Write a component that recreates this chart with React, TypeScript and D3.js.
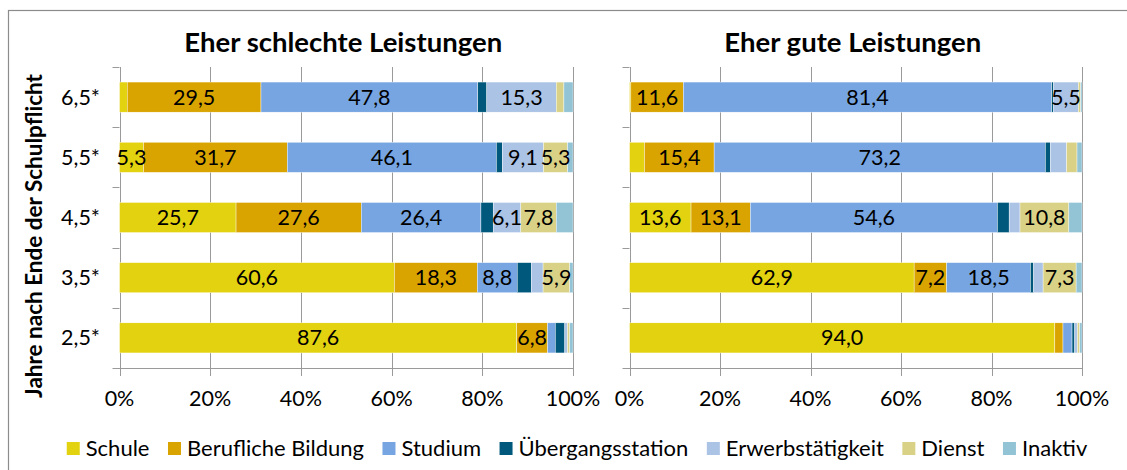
import React, { useEffect, useRef } from 'react';
import * as d3 from 'd3';

const categories = ['6,5*', '5,5*', '4,5*', '3,5*', '2,5*'];
const seriesNames = ['Schule', 'Berufliche Bildung', 'Studium', 'Übergangsstation', 'Erwerbstätigkeit', 'Dienst', 'Inaktiv'];
const seriesColors = ['#E2D20F', '#DAA400', '#77A5E1', '#00597C', '#ABC3E5', '#D9D286', '#92C4D6'];
const xTicks = [0, 20, 40, 60, 80, 100];

// Eher schlechte Leistungen
const schuleLow = [1.7, 5.3, 25.7, 60.6, 87.6];
const berufLow = [29.5, 31.7, 27.6, 18.3, 6.8];
const studiumLow = [47.8, 46.1, 26.4, 8.8, 1.7];
const uebergangLow = [2.0, 1.3, 2.7, 3.1, 2.1];
const erwerbLow = [15.3, 9.1, 6.1, 2.6, 0.6];
const dienstLow = [1.7, 5.3, 7.8, 5.9, 0.5];
const inaktivLow = [2.0, 1.2, 3.7, 0.7, 0.7];

// Eher gute Leistungen
const schuleHigh = [0.3, 3.3, 13.6, 62.9, 94.0];
const berufHigh = [11.6, 15.4, 13.1, 7.2, 1.8];
const studiumHigh = [81.4, 73.2, 54.6, 18.5, 2.0];
const uebergangHigh = [0.4, 1.1, 2.6, 0.7, 0.6];
const erwerbHigh = [5.5, 3.6, 2.4, 2.1, 0.6];
const dienstHigh = [0.5, 2.3, 10.8, 7.3, 0.5];
const inaktivHigh = [0.3, 1.1, 2.9, 1.3, 0.5];

const panels = [
    { title: 'Eher schlechte Leistungen', series: [schuleLow, berufLow, studiumLow, uebergangLow, erwerbLow, dienstLow, inaktivLow], x0: 119.5, x1: 573, showLabels: true },
    { title: 'Eher gute Leistungen', series: [schuleHigh, berufHigh, studiumHigh, uebergangHigh, erwerbHigh, dienstHigh, inaktivHigh], x0: 629.5, x1: 1082, showLabels: false },
];

const FONT = 'Lato, "Open Sans", sans-serif';
const fmt = (v: number) => d3.format('.1f')(v).replace('.', ',');

export default function App() {
    const ref = useRef<SVGSVGElement>(null);

    useEffect(() => {
        const svg = d3.select(ref.current);
        svg.selectAll('*').remove();

        const top = 67;
        const bottom = 368;
        const grid = '#9A9A9A';
        const fs = 21.5;

        // outer frame
        svg.append('rect')
            .attr('x', 8.5).attr('y', 10.5)
            .attr('width', 1140).attr('height', 480)
            .attr('fill', 'none').attr('stroke', '#8C8C8C').attr('stroke-width', 1.2);

        const y = d3.scaleBand<string>()
            .domain(categories)
            .range([top, bottom])
            .paddingInner(0.5)
            .paddingOuter(0.25);

        panels.forEach((p) => {
            const x = d3.scaleLinear().domain([0, 100]).range([p.x0, p.x1]);
            const g = svg.append('g');

            // grid
            g.selectAll('line.grid')
                .data(xTicks.slice(1))
                .join('line')
                .attr('x1', (d) => Math.round(x(d)) + 0.5).attr('x2', (d) => Math.round(x(d)) + 0.5)
                .attr('y1', top).attr('y2', bottom + 8)
                .attr('stroke', grid);

            // axes
            g.append('line')
                .attr('x1', Math.round(p.x0) + 0.5).attr('x2', Math.round(p.x0) + 0.5)
                .attr('y1', top).attr('y2', bottom + 8)
                .attr('stroke', grid);
            g.append('line')
                .attr('x1', p.x0 - 7).attr('x2', p.x1)
                .attr('y1', bottom + 0.5).attr('y2', bottom + 0.5)
                .attr('stroke', grid);
            const step = y.step();
            g.selectAll('line.ytick')
                .data(d3.range(categories.length))
                .join('line')
                .attr('x1', p.x0 - 7).attr('x2', p.x0)
                .attr('y1', (i) => Math.round(top + i * step) + 0.5)
                .attr('y2', (i) => Math.round(top + i * step) + 0.5)
                .attr('stroke', grid);

            // x tick labels
            g.selectAll('text.xt')
                .data(xTicks)
                .join('text')
                .attr('x', (d) => x(d))
                .attr('y', 406)
                .attr('text-anchor', 'middle')
                .attr('font-family', FONT)
                .attr('font-size', fs)
                .attr('fill', '#000')
                .text((d) => d + '%');

            // title
            g.append('text')
                .attr('x', (p.x0 + p.x1) / 2 - 3)
                .attr('y', 52)
                .attr('text-anchor', 'middle')
                .attr('font-family', FONT)
                .attr('font-weight', 'bold')
                .attr('font-size', 27.5)
                .text(p.title);

            // bars
            const rows = categories.map((c, i) => {
                const row: Record<string, any> = { cat: c };
                seriesNames.forEach((s, k) => { row[s] = p.series[k][i]; });
                return row;
            });
            const stacked = d3.stack().keys(seriesNames)(rows as any);

            stacked.forEach((layer, k) => {
                const lg = g.append('g').attr('fill', seriesColors[k]);
                lg.selectAll('rect')
                    .data(layer)
                    .join('rect')
                    .attr('x', (d) => x(d[0]))
                    .attr('y', (d) => y((d.data as any).cat)!)
                    .attr('width', (d) => Math.max(0, x(d[1]) - x(d[0])))
                    .attr('height', y.bandwidth())
                    .attr('stroke', '#fff')
                    .attr('stroke-width', 0.4);
            });

            stacked.forEach((layer) => {
                g.append('g').selectAll('text')
                    .data(layer.filter((d) => d[1] - d[0] >= 5))
                    .join('text')
                    .attr('x', (d) => x((d[0] + d[1]) / 2))
                    .attr('y', (d) => y((d.data as any).cat)! + y.bandwidth() / 2 + 7.5)
                    .attr('text-anchor', 'middle')
                    .attr('font-family', FONT)
                    .attr('font-size', fs)
                    .attr('fill', '#000')
                    .text((d) => fmt(d[1] - d[0]));
            });

            if (p.showLabels) {
                g.selectAll('text.yt')
                    .data(categories)
                    .join('text')
                    .attr('x', 100)
                    .attr('y', (c) => y(c)! + y.bandwidth() / 2 + 7.5)
                    .attr('text-anchor', 'end')
                    .attr('font-family', FONT)
                    .attr('font-size', fs)
                    .text((c) => c);
            }
        });

        // y axis title
        svg.append('text')
            .attr('transform', 'translate(42,236) rotate(-90)')
            .attr('text-anchor', 'middle')
            .attr('font-family', FONT)
            .attr('font-weight', 'bold')
            .attr('font-size', 22.5)
            .text('Jahre nach Ende der Schulpflicht');

        // legend
        const leg = svg.append('g');
        const items = leg.selectAll('g')
            .data(seriesNames)
            .join('g');
        items.append('rect')
            .attr('width', 13).attr('height', 13)
            .attr('y', 442)
            .attr('fill', (d, i) => seriesColors[i]);
        items.append('text')
            .attr('x', 19)
            .attr('y', 456)
            .attr('font-family', FONT)
            .attr('font-size', 22)
            .text((d) => d);
        let cursor = 0;
        const offsets: number[] = [];
        items.each(function () {
            offsets.push(cursor);
            const w = (d3.select(this).select('text').node() as SVGTextElement).getComputedTextLength();
            cursor += 19 + w + 18.5;
        });
        const total = cursor - 18.5;
        const start = 577 - total / 2;
        items.attr('transform', (d, i) => `translate(${start + offsets[i]},0)`);
    }, []);

    return (
        <svg ref={ref} width={1127} height={470} style={{ position: 'absolute', left: 0, top: 0 }} />
    );
}
